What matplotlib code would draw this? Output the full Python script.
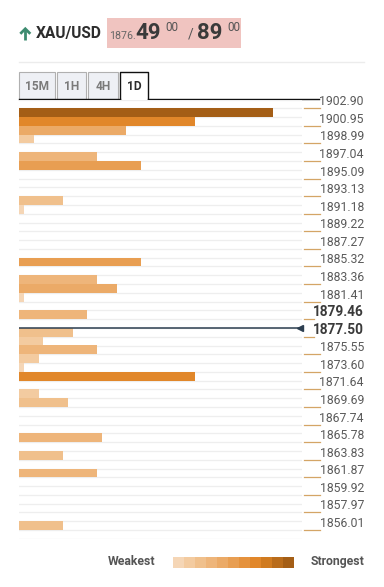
import numpy as np
from matplotlib import pyplot as plt
from matplotlib.patches import Rectangle

plt.rcParams['font.family'] = ['Roboto', 'DejaVu Sans']

# price levels shown on the right side
tick_levels = [1902.90, 1900.95, 1898.99, 1897.04, 1895.09, 1893.13, 1891.18,
               1889.22, 1887.27, 1885.32, 1883.36, 1881.41, 1879.46, 1877.50,
               1875.55, 1873.60, 1871.64, 1869.69, 1867.74, 1865.78, 1863.83,
               1861.87, 1859.92, 1857.97, 1856.01]
bold_levels = [1879.46, 1877.50]

# confluence bars: price level and strength
bar_levels = [1902.41, 1901.44, 1900.46, 1899.48, 1897.53, 1896.55, 1892.65,
              1891.67, 1885.81, 1883.85, 1882.88, 1881.90, 1879.95, 1877.99,
              1877.01, 1876.04, 1875.06, 1874.08, 1873.11, 1871.16, 1870.18,
              1866.27, 1864.32, 1862.36, 1856.50]
bar_strength = [52, 36, 22, 3, 16, 25, 9,
                1, 25, 16, 20, 1, 14, 11,
                5, 16, 4, 1, 36, 4, 10,
                17, 9, 16, 9]

current_level = 1878.48
symbol = 'XAU/USD'
price_parts = ['1876.', '49', '00', '/', '89', '00']
tabs = ['15M', '1H', '4H', '1D']

legend_colors = ['#f5d6b6', '#f3cba0', '#f0c08c', '#eeb57a', '#ebaa67', '#e89e52',
                 '#e5923d', '#e1872a', '#d07b20', '#b96c1b', '#a45e16']

W, H = 384, 587


# -------------------------------------------------------------------------------
# Function - header with symbol, price box and timeframe tabs
# -------------------------------------------------------------------------------
def draw_header(ov):
    # green up arrow
    ov.plot([25.3, 25.3], [29, 39.5], color='#3d8c70', lw=2, solid_capstyle='butt')
    ov.plot([20.3, 25.3, 30.3], [33.8, 28.8, 33.8], color='#3d8c70', lw=2,
            solid_joinstyle='miter', solid_capstyle='butt')

    ov.text(36, 33.5, symbol, color='#2d2d2d', fontsize=11.2, fontweight='bold',
            ha='left', va='center')
    ov.add_patch(Rectangle((107, 18.3), 133.7, 29.4, color='#f0c4c0', lw=0))
    ov.text(109.5, 38.7, price_parts[0], color='#666666', fontsize=7.7, ha='left', va='baseline')
    ov.text(135, 38.7, price_parts[1], color='#3a3a3a', fontsize=16, fontweight='bold',
            ha='left', va='baseline')
    ov.text(165.5, 30.8, price_parts[2], color='#555555', fontsize=8.5, ha='left', va='baseline')
    ov.text(188, 38.7, price_parts[3], color='#555555', fontsize=10, ha='left', va='baseline')
    ov.text(197.5, 38.7, price_parts[4], color='#3a3a3a', fontsize=16, fontweight='bold',
            ha='left', va='baseline')
    ov.text(227.5, 30.8, price_parts[5], color='#555555', fontsize=8.5, ha='left', va='baseline')

    ov.plot([19, 364], [62.3, 62.3], color='#ececec', lw=1)

    # tabs
    tab_x = [19, 57.3, 88.3, 120]
    tab_w = [36, 28.7, 30, 27.7]
    for i, name in enumerate(tabs):
        selected = i == len(tabs) - 1
        if selected:
            ov.plot([tab_x[i], tab_x[i], tab_x[i] + tab_w[i], tab_x[i] + tab_w[i]],
                    [99, 71.7, 71.7, 99], color='#111111', lw=1)
        else:
            ov.add_patch(Rectangle((tab_x[i], 71.7), tab_w[i], 27.3, facecolor='#eef0f5',
                                   edgecolor='#b0b0b0', lw=0.8))
        ov.text(tab_x[i] + tab_w[i] / 2, 86, name, fontsize=8.6, fontweight='bold',
                color='#2d2d2d' if selected else '#7a7a7a', ha='center', va='center')
    ov.plot([19, 120], [99, 99], color='#111111', lw=1)
    ov.plot([147.7, 319], [99, 99], color='#111111', lw=1)


# -------------------------------------------------------------------------------
# Function - Weakest / Strongest colour legend
# -------------------------------------------------------------------------------
def draw_legend(ov):
    ov.text(108, 561.5, 'Weakest', fontsize=8.8, fontweight='bold', color='#555555',
            ha='left', va='center')
    ov.text(364, 561.5, 'Strongest', fontsize=8.8, fontweight='bold', color='#555555',
            ha='right', va='center')
    seg = (294 - 172.7) / len(legend_colors)
    for i, c in enumerate(legend_colors):
        ov.add_patch(Rectangle((172.7 + i * seg, 557.3), seg + 0.3, 10.7, color=c, lw=0))


# -------------------------------------------------------------------------------
# Function - confluence bars
# -------------------------------------------------------------------------------
def draw_bars(ax):
    step = (tick_levels[0] - tick_levels[-1]) / (2 * (len(tick_levels) - 1))
    top = tick_levels[0] + step
    bottom = tick_levels[-1] - step
    x_max = 58

    ax.set_ylim(bottom, top)
    ax.set_xlim(0, x_max)

    # row separators
    rows = np.arange(top, bottom - step / 2, -step)
    for r in rows:
        ax.axhline(r, color='#eeeeee', lw=0.9, zorder=0)

    max_s = max(bar_strength)
    colors = [legend_colors[int(round(s / max_s * (len(legend_colors) - 1)))] for s in bar_strength]
    ax.barh(bar_levels, bar_strength, height=step, color=colors, lw=0, zorder=2)

    # current price marker
    ax.axhline(current_level, xmax=0.993, color='#2c3e50', lw=1.1, zorder=3)
    ax.plot([x_max * 0.993], [current_level], marker='<', color='#2c3e50',
            markersize=4.5, clip_on=False, zorder=3)

    # right side labels
    tr = ax.get_yaxis_transform()
    for lvl in tick_levels:
        bold = lvl in bold_levels
        ax.plot([1.007, 1.042 if bold else 1.062], [lvl, lvl], color='#d4a566', lw=0.9,
                transform=tr, clip_on=False)
        ax.text(1.219, lvl, f'{lvl:.2f}', transform=tr, ha='right', va='bottom',
                fontsize=9.8 if bold else 8.8, fontweight='bold' if bold else 'normal',
                color='#3a3a3a' if bold else '#5a5a5a')

    ax.set_xticks([])
    ax.set_yticks([])
    for s in ax.spines.values():
        s.set_visible(False)


# -------------------------------------------------------------------------------
# Main Function
# -------------------------------------------------------------------------------
def main():
    fig = plt.figure(figsize=(W / 100, H / 100), dpi=100)

    ov = fig.add_axes([0, 0, 1, 1])
    ov.set_xlim(0, W)
    ov.set_ylim(H, 0)
    ov.axis('off')

    ax = fig.add_axes([19 / W, 1 - 538.8 / H, 283 / W, (538.8 - 99.5) / H])
    ax.patch.set_alpha(0)

    draw_header(ov)
    draw_bars(ax)
    draw_legend(ov)

    fig.savefig('out.png', dpi=100)


if __name__ == '__main__':
    main()
